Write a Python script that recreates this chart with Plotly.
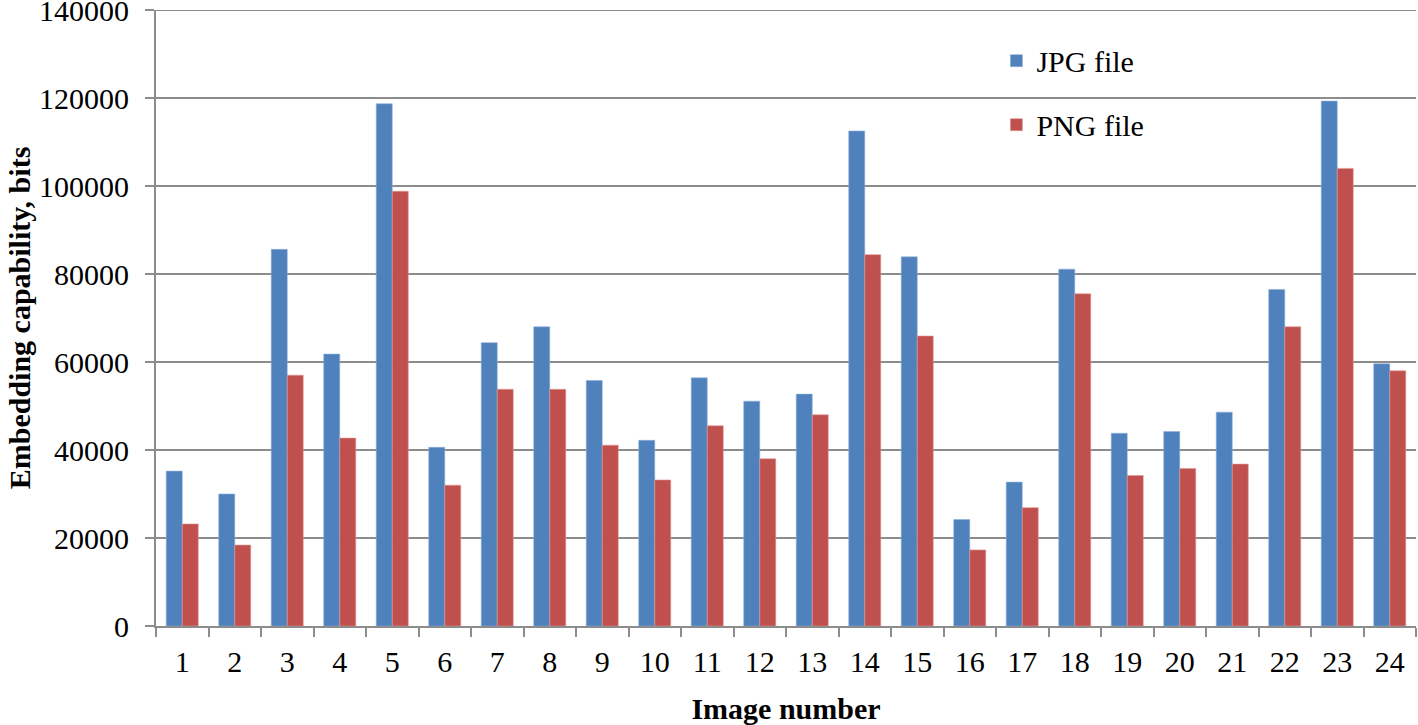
import plotly.graph_objects as go

image_numbers = [str(i) for i in range(1, 25)]
jpg_bits = [35200, 30000, 85600, 61800, 118700, 40600, 64400, 68000, 55800, 42200,
            56400, 51100, 52700, 112500, 83900, 24200, 32700, 81100, 43800, 44200,
            48600, 76500, 119300, 59600]
png_bits = [23200, 18400, 57000, 42700, 98800, 32000, 53800, 53800, 41100, 33200,
            45500, 38000, 48000, 84400, 65900, 17300, 26900, 75500, 34200, 35800,
            36800, 68000, 104000, 58000]
y_ticks = [0, 20000, 40000, 60000, 80000, 100000, 120000, 140000]
y_tick_labels = [str(v) for v in y_ticks]

font_family = "Liberation Serif, Times New Roman, serif"
grid_col = "#8c8c8c"

fig = go.Figure()
fig.add_trace(go.Bar(x=image_numbers, y=jpg_bits, name="JPG file",
                     marker=dict(color="#4F81BD", line=dict(width=0.6, color="#8fb0d8")),
                     legendgroup="a"))
fig.add_trace(go.Bar(x=image_numbers, y=png_bits, name="PNG file",
                     marker=dict(color="#C0504D", line=dict(width=0.6, color="#e09896")),
                     legendgroup="b"))

fig.update_layout(
    width=1418, height=725,
    margin=dict(l=156, r=2, t=10, b=99, autoexpand=False),
    paper_bgcolor="white", plot_bgcolor="white",
    barmode="group", bargap=0.39, bargroupgap=0.0,
    font=dict(family=font_family, size=30, color="black"),
    legend=dict(x=0.667, y=0.96, xanchor="left", yanchor="top",
                bgcolor="rgba(0,0,0,0)", tracegroupgap=22,
                font=dict(size=30, family=font_family)),
    xaxis=dict(
        type="category", tickson="boundaries", ticks="outside", ticklen=9,
        tickwidth=2, tickcolor=grid_col, showline=True, linecolor=grid_col,
        linewidth=2, showgrid=False, ticklabelstandoff=8,
        tickfont=dict(size=30, family=font_family),
        title=dict(text="<b>Image number</b>", standoff=22,
                   font=dict(size=30, family=font_family)),
    ),
    yaxis=dict(
        range=[0, 140000.01], tickvals=y_ticks, ticktext=y_tick_labels,
        ticks="outside", ticklen=9, ticklabeloverflow="allow",
        tickwidth=2, tickcolor=grid_col, showline=True, linecolor=grid_col,
        linewidth=2, showgrid=True, gridcolor=grid_col, gridwidth=2,
        zeroline=False, ticklabelstandoff=10,
        tickfont=dict(size=30, family=font_family),
        title=dict(text="<b>Embedding capability, bits</b>", standoff=0,
                   font=dict(size=30, family=font_family)),
    ),
    shapes=[dict(type="line", xref="paper", yref="y", x0=0, x1=1,
                 y0=y_ticks[-1], y1=y_ticks[-1],
                 line=dict(color=grid_col, width=2), layer="below")],
)

fig.write_html("out.html", config={"displayModeBar": False},
               post_script="document.body.style.margin='0';")
